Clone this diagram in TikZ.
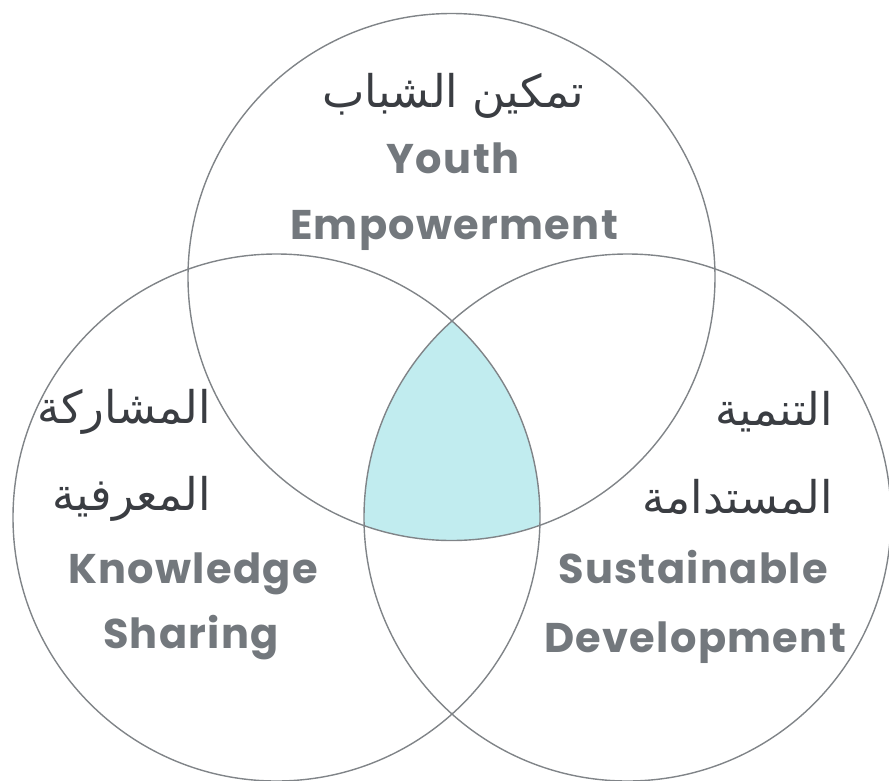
\documentclass[tikz,border=0pt]{standalone}
\usepackage{fontspec}
\TeXXeTstate=1
\newfontfamily\arabicfont[Script=Arabic]{DejaVu Sans}
\newfontfamily\engfont[LetterSpace=3.2]{Poppins Bold}
\definecolor{ringgray}{HTML}{808488}
\definecolor{engtext}{HTML}{73787D}
\definecolor{artext}{HTML}{3A3D42}
\definecolor{corefill}{HTML}{C1ECEF}
\begin{document}
\begin{tikzpicture}[x=1pt,y=-1pt,
  ring/.style={draw=ringgray,line width=1.4pt},
  artxt/.style={text=artext,font=\arabicfont\fontsize{45}{54}\selectfont,inner sep=0pt},
  entxt/.style={text=engtext,font=\engfont\fontsize{41.5}{50}\selectfont,inner sep=0pt}]
\useasboundingbox (0,0) rectangle (889,780);
\coordinate (T) at (451.5,277);
\coordinate (L) at (276.5,517.5);
\coordinate (R) at (627.5,517.5);
\begin{scope}
  \clip (L) circle[radius=263.5pt];
  \clip (R) circle[radius=263.5pt];
  \fill[corefill] (T) circle[radius=263.5pt];
\end{scope}
\draw[ring] (T) circle[radius=263.5pt];
\draw[ring] (L) circle[radius=263.5pt];
\draw[ring] (R) circle[radius=263.5pt];
% top
\node[artxt,anchor=base] (ta) at (453,107) {\beginR تمكين الشباب\endR};
\node[entxt,anchor=base] (te1) at (453,173) {Youth};
\node[entxt,anchor=base] (te2) at (454,239) {Empowerment};
% left
\node[artxt,anchor=base east] (la1) at (211,423) {\beginR المشاركة\endR};
\node[artxt,anchor=base east] (la2) at (211,510) {\beginR المعرفية\endR};
\node[entxt,anchor=base] (le1) at (193,583) {Knowledge};
\node[entxt,anchor=base] (le2) at (191,648) {Sharing};
% right
\node[artxt,anchor=base east] (ra1) at (833,425) {\beginR التنمية\endR};
\node[artxt,anchor=base east] (ra2) at (833,513) {\beginR المستدامة\endR};
\node[entxt,anchor=base] (re1) at (693,583) {Sustainable};
\node[entxt,anchor=base] (re2) at (695,652) {Development};
\end{tikzpicture}
\end{document}
